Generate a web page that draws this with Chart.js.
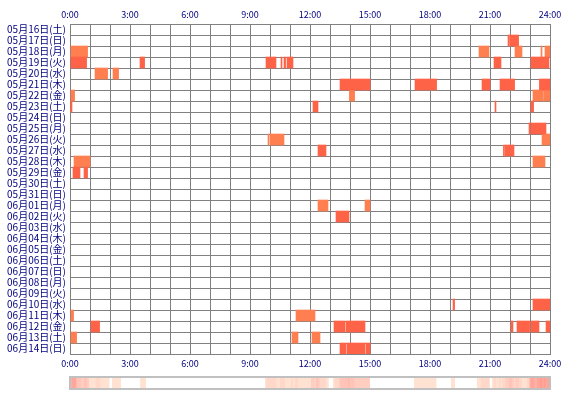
<!DOCTYPE html>
<html>
<head>
<meta charset="utf-8">
<script src="https://cdn.jsdelivr.net/npm/chart.js@4.4.0/dist/chart.umd.min.js"></script>
<style>
  html, body { margin: 0; padding: 0; background: #fff; }
  #wrap { position: relative; width: 570px; height: 400px; }
  #main { position: absolute; left: 0; top: 0; }
  #stripBox { position: absolute; left: 69px; top: 376px; width: 478px; height: 10px; border: 2px solid #c0c0c0; }
</style>
</head>
<body>
<div id="wrap">
  <canvas id="main" width="570" height="400"></canvas>
  <div id="stripBox"><canvas id="strip" width="478" height="10"></canvas></div>
</div>
<script>
const days = [
  '05月16日(土)', '05月17日(日)', '05月18日(月)', '05月19日(火)', '05月20日(水)',
  '05月21日(木)', '05月22日(金)', '05月23日(土)', '05月24日(日)', '05月25日(月)',
  '05月26日(火)', '05月27日(水)', '05月28日(木)', '05月29日(金)', '05月30日(土)',
  '05月31日(日)', '06月01日(月)', '06月02日(火)', '06月03日(水)', '06月04日(木)',
  '06月05日(金)', '06月06日(土)', '06月07日(日)', '06月08日(月)', '06月09日(火)',
  '06月10日(水)', '06月11日(木)', '06月12日(金)', '06月13日(土)', '06月14日(日)'
];
const hourLabels = ['0:00', '3:00', '6:00', '9:00', '12:00', '15:00', '18:00', '21:00', '24:00'];

// [day index, start hour, end hour]
const tomatoSpans = [
  [1, 21.9, 21.95], [1, 21.98, 22.43],
  [3, 0.05, 0.83], [3, 3.5, 3.73], [3, 9.8, 10.3], [3, 10.55, 10.6], [3, 10.7, 10.78], [3, 10.85, 11.15],
  [3, 21.2, 21.55], [3, 23.05, 23.95],
  [5, 13.5, 15.0], [5, 17.25, 18.33], [5, 20.6, 21.0], [5, 21.5, 22.23], [5, 23.47, 24],
  [7, 0.03, 0.1], [7, 12.15, 12.4], [7, 21.25, 21.3], [7, 23.05, 23.18],
  [9, 22.95, 23.0], [9, 23.05, 23.8],
  [11, 12.4, 12.8], [11, 21.67, 21.72], [11, 21.75, 22.2],
  [13, 0.15, 0.5], [13, 0.7, 0.88],
  [17, 13.3, 13.95],
  [25, 19.15, 19.23], [25, 23.15, 24],
  [27, 1.05, 1.48], [27, 13.2, 13.75], [27, 13.8, 14.75], [27, 22.05, 22.15], [27, 22.35, 22.98],
  [27, 23.05, 23.45], [27, 23.8, 24],
  [29, 13.5, 13.8], [29, 13.85, 14.75], [29, 14.8, 15.0]
];
const coralSpans = [
  [2, 0.05, 0.88], [2, 20.45, 20.95], [2, 22.25, 22.6], [2, 23.55, 23.6], [2, 23.75, 24],
  [4, 1.25, 1.88], [4, 2.15, 2.43],
  [6, 0.05, 0.23], [6, 13.97, 14.23], [6, 23.15, 23.65], [6, 23.68, 24],
  [10, 9.9, 9.95], [10, 10.0, 10.7], [10, 23.6, 24],
  [12, 0.2, 1.0], [12, 23.15, 23.75],
  [16, 12.4, 12.9], [16, 14.75, 15.0],
  [26, 0.05, 0.18], [26, 11.3, 12.25],
  [28, 0.05, 0.33], [28, 11.1, 11.4], [28, 12.1, 12.5]
];

const textColor = '#000080';
const gridColor = '#808080';
const fontFamily = '"Noto Sans CJK JP", sans-serif';

const toPoints = (spans) => spans.map((s) => ({ x: [s[1], s[2]], y: days[s[0]] }));

const hourTicks = (v) => (v % 3 === 0 ? hourLabels[v / 3] : '');

new Chart(document.getElementById('main'), {
  type: 'bar',
  data: {
    labels: days,
    datasets: [
      { data: toPoints(tomatoSpans), backgroundColor: '#ff6347', borderWidth: 0, grouped: false,
        barPercentage: 1, categoryPercentage: 1 },
      { data: toPoints(coralSpans), backgroundColor: '#ff7f50', borderWidth: 0, grouped: false,
        barPercentage: 1, categoryPercentage: 1 }
    ]
  },
  options: {
    indexAxis: 'y',
    responsive: false,
    animation: false,
    layout: { padding: { left: 0, right: 20, top: 0, bottom: 0 } },
    plugins: { legend: { display: false }, tooltip: { enabled: false } },
    scales: {
      x: {
        type: 'linear', position: 'bottom', min: 0, max: 24, z: 1,
        grid: { color: gridColor, lineWidth: 1, drawTicks: false },
        border: { color: gridColor },
        ticks: { stepSize: 1, autoSkip: false, maxRotation: 0, padding: 4, color: textColor,
          font: { family: fontFamily, size: 9 }, callback: hourTicks },
        afterFit: (s) => { s.height = 46; }
      },
      xTop: {
        type: 'linear', position: 'top', min: 0, max: 24,
        grid: { display: false, drawTicks: false },
        border: { display: false },
        ticks: { stepSize: 1, autoSkip: false, maxRotation: 0, padding: 4, color: textColor,
          font: { family: fontFamily, size: 9 }, callback: hourTicks },
        afterFit: (s) => { s.height = 24; }
      },
      y: {
        type: 'category', offset: true, z: 1,
        grid: { color: gridColor, lineWidth: 1, drawTicks: false, offset: true },
        border: { color: gridColor },
        ticks: { autoSkip: false, padding: 4, color: textColor, font: { family: fontFamily, size: 10 } },
        afterFit: (s) => { s.width = 70; }
      }
    }
  }
});

// activity strip: how many days are active in each 5 minute slot, equal slots merged
const slot = 1 / 12;
const allSpans = tomatoSpans.concat(coralSpans);
const counts = [];
for (let i = 0; i < 24 * 12; i++) {
  const a = i * slot, b = a + slot;
  const active = new Set();
  allSpans.forEach((s) => { if (s[1] < b && s[2] > a) active.add(s[0]); });
  counts.push(active.size);
}
const stripPoints = [];
const stripColors = [];
const light = [255, 226, 210], dark = [255, 156, 146];
let i = 0;
while (i < counts.length) {
  let j = i;
  while (j < counts.length && counts[j] === counts[i]) j++;
  if (counts[i] > 0) {
    const f = Math.min(1, (counts[i] - 1) / 7);
    const c = light.map((v, k) => Math.round(v + (dark[k] - v) * f));
    stripPoints.push({ x: [i * slot, j * slot], y: 's' });
    stripColors.push(`rgb(${c[0]}, ${c[1]}, ${c[2]})`);
  }
  i = j;
}

new Chart(document.getElementById('strip'), {
  type: 'bar',
  data: {
    labels: ['s'],
    datasets: [{ data: stripPoints, backgroundColor: stripColors, borderWidth: 0, grouped: false,
      barPercentage: 1, categoryPercentage: 1 }]
  },
  options: {
    indexAxis: 'y',
    responsive: false,
    animation: false,
    devicePixelRatio: 6,
    layout: { padding: 0 },
    plugins: { legend: { display: false }, tooltip: { enabled: false } },
    scales: {
      x: { type: 'linear', min: 0, max: 24, display: false },
      y: { type: 'category', display: false }
    }
  }
});
</script>
</body>
</html>
